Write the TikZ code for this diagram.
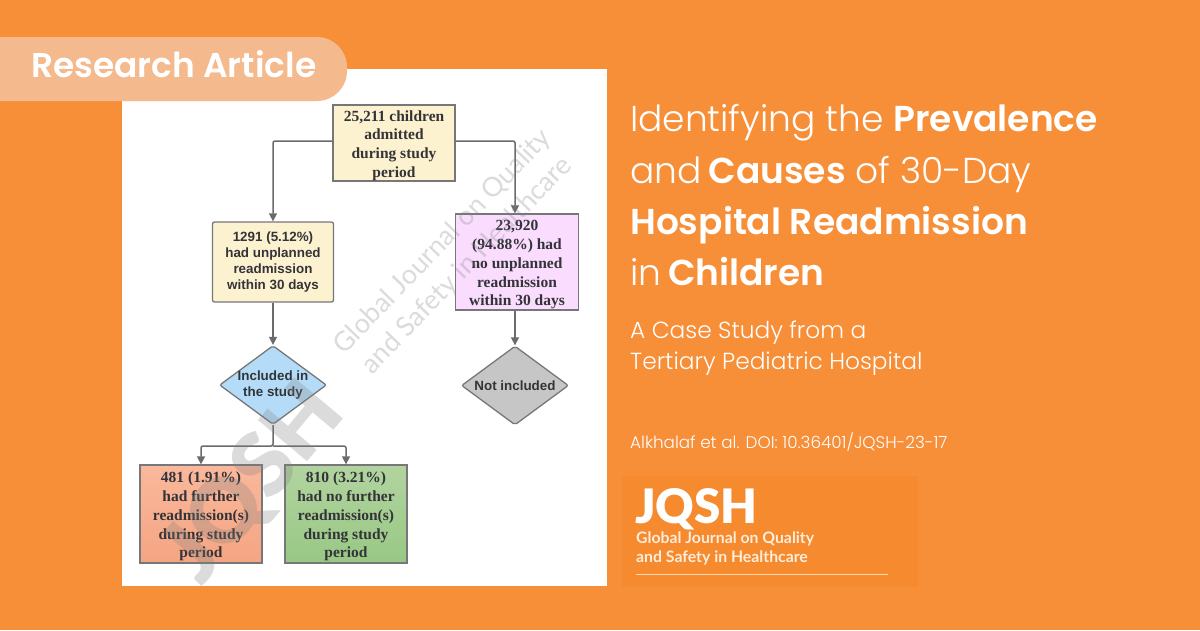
\documentclass[tikz,border=0pt]{standalone}
\usepackage{fontspec}
\usepackage{xcolor}
\usepackage{tikz}
\usetikzlibrary{arrows.meta,shapes.geometric}
\setmainfont{Liberation Serif}
\newfontfamily\flowsans{Liberation Sans}
\newfontfamily\titlefont{Poppins Light}[BoldFont={Poppins SemiBold}]
\newfontfamily\tagfont{Poppins SemiBold}
\newfontfamily\logofont{Lato}[BoldFont={Lato Black}]
\newcommand{\flowgap}{\rule{0pt}{16pt}}
\definecolor{bgorange}{HTML}{F78E38}
\definecolor{logoorange}{HTML}{F58A2E}
\definecolor{pillorange}{HTML}{F4B98C}
\definecolor{boxline}{HTML}{77777A}
\definecolor{flowtext}{HTML}{333338}
\definecolor{creamfill}{HTML}{FDF2D0}
\definecolor{pinkfill}{HTML}{F9DCFE}
\definecolor{bluefill}{HTML}{B4DCF8}
\definecolor{greyfill}{HTML}{C6C6C6}
\definecolor{salmontop}{HTML}{FAB89C}
\definecolor{salmonbot}{HTML}{F4A582}
\definecolor{greentop}{HTML}{B2D4A0}
\definecolor{greenbot}{HTML}{98C884}
\tikzset{
    flowbox/.style={rectangle, draw=boxline, line width=1.3pt, inner sep=0pt, align=center, text=flowtext,
        font=\fontsize{15.5}{18.8}\selectfont\bfseries},
    sansbox/.style={rectangle, draw=boxline, line width=1.3pt, inner sep=0pt, align=center, text=flowtext,
        rounded corners=2pt, font=\flowsans\fontsize{13.4}{16}\selectfont\bfseries},
    flowdiamond/.style={diamond, draw=boxline, line width=1.3pt, rounded corners=2pt, aspect=1.35, inner sep=-2.5pt,
        minimum width=107pt, minimum height=79pt, align=center, text=flowtext,
        font=\flowsans\fontsize{13.4}{16}\selectfont\bfseries},
    flowarrow/.style={draw=boxline!90!black, line width=1.5pt, rounded corners=2pt, -{Triangle[length=8pt,width=8pt]}},
    titleline/.style={anchor=base west, inner sep=0pt, text=white, font=\titlefont\fontsize{36}{40}\selectfont},
    subline/.style={anchor=base west, inner sep=0pt, text=white, font=\titlefont\fontsize{23.3}{27}\selectfont},
    stamp/.style={text=gray, opacity=0.28, align=center, inner sep=0pt}
}
\begin{document}
\begin{tikzpicture}[x=1pt, y=-1pt]
    \useasboundingbox (0,0) rectangle (1200,630);
    \fill[bgorange] (0,0) rectangle (1200,630);
    \fill[white] (122,69) rectangle (607,586);

    % flow chart
    \node[flowbox, fill=creamfill, minimum width=122pt, minimum height=76pt] (admitted) at (394,143)
        {\flowgap 25,211 children\\admitted\\during study\\period};
    \node[sansbox, fill=creamfill, minimum width=121pt, minimum height=80pt] (unplanned) at (273,262)
        {1291 (5.12\%)\\had unplanned\\readmission\\within 30 days};
    \node[flowbox, fill=pinkfill, minimum width=123pt, minimum height=96pt] (nounplanned) at (517,262)
        {\flowgap 23,920\\(94.88\%) had\\no unplanned\\readmission\\within 30 days};
    \node[flowdiamond, fill=bluefill, below of=unplanned, node distance=123pt] (included) {Included in\\the study};
    \node[flowdiamond, fill=greyfill, at={(515,385.5)}] (notincluded) {Not included};
    \node[flowbox, top color=salmontop, bottom color=salmonbot, minimum width=122pt, minimum height=98pt] (further) at (201,514)
        {\flowgap 481 (1.91\%)\\had further\\readmission(s)\\during study\\period};
    \node[flowbox, top color=greentop, bottom color=greenbot, minimum width=122pt, minimum height=98pt] (nofurther) at (346,514)
        {\flowgap 810 (3.21\%)\\had no further\\readmission(s)\\during study\\period};
    \coordinate (split) at (273,446);

    \draw[flowarrow] ([yshift=2pt]admitted.west) -| (unplanned.north);
    \draw[flowarrow] ([yshift=2pt]admitted.east) -| (notincluded.north |- nounplanned.north);
    \draw[flowarrow] (unplanned) -- (included);
    \draw[flowarrow] (notincluded.north |- nounplanned.south) -- (notincluded);
    \draw[flowarrow] (included.south) -- (split) -| (further.north);
    \draw[flowarrow] (split) -| (nofurther.north);

    % watermarks
    \node[stamp, rotate=46, font=\logofont\fontsize{27}{34}\selectfont] (stampjournal) at (455,254) {Global Journal on Quality\\and Safety in Healthcare};
    \node[stamp, rotate=50, font=\logofont\fontsize{88}{88}\selectfont\bfseries] (stampjqsh) at (254,484) {JQSH};

    % tag
    \fill[pillorange, rounded corners=30pt] (-50,37) rectangle (347,101);
    \node[anchor=base west, inner sep=0pt, text=white, font=\tagfont\fontsize{34.4}{38}\selectfont] (tag) at (31,77) {Research Article};

    % title
    \node[titleline] (title1) at (630,131) {Identifying the \textbf{Prevalence}};
    \node[titleline] (title2) at (630,183) {and\hspace{-3pt} \textbf{Causes} of 30-Day};
    \node[titleline] (title3) at (630,234) {\textbf{Hospital Readmission}};
    \node[titleline] (title4) at (630,285) {in\hspace{-3pt} \textbf{Children}};
    \node[subline] (sub1) at (630,338) {A Case Study from a};
    \node[subline] (sub2) at (630,369) {Tertiary Pediatric Hospital};
    \node[anchor=base west, inner sep=0pt, text=white, font=\titlefont\fontsize{16.8}{19}\selectfont] (doi) at (630,448) {Alkhalaf et al. DOI: 10.36401/JQSH-23-17};

    % logo
    \fill[logoorange] (622,476) rectangle (918,587);
    \node[anchor=base west, inner sep=0pt, text=white, font=\logofont\fontsize{47.5}{47}\selectfont\bfseries] (jqsh) at (635,523) {JQSH};
    \node[anchor=north west, inner sep=0pt, align=left, text=white!85!orange, font=\fontsize{15.8}{18.5}\selectfont\fontspec{Lato Bold}] (journal) at (636,532)
        {Global Journal on Quality\\and Safety in Healthcare};
    \draw[white!70!orange, line width=0.8pt] (636,574) -- (888,574);
\end{tikzpicture}
\end{document}
